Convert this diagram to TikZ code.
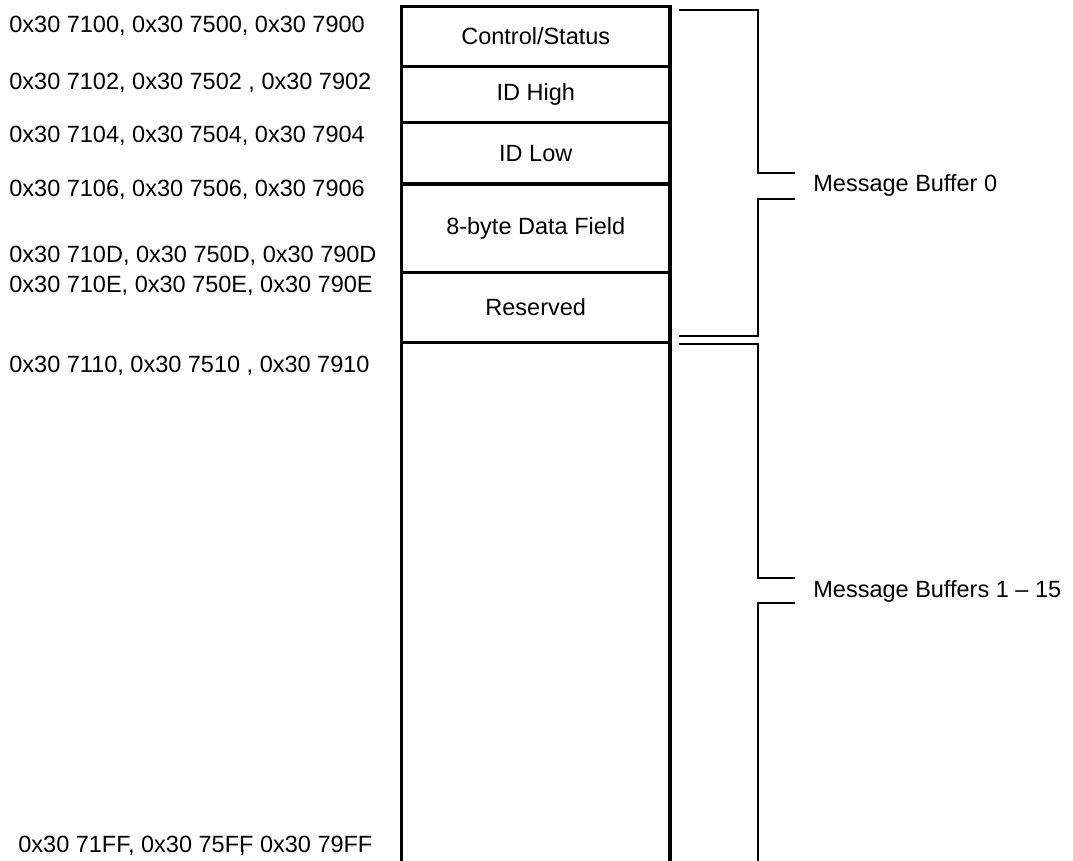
\documentclass[tikz,border=0pt]{standalone}
\usepackage{fontspec}
\setmainfont{Liberation Sans}
\newcommand{\addrfont}{\fontsize{11.75}{14}\selectfont}

\begin{document}
\begin{tikzpicture}[x=0.5pt,y=-0.5pt,
  every node/.style={font=\addrfont},
  cell/.style={draw,rectangle,line width=1.75pt,minimum width=134.25pt,inner sep=0pt,outer sep=0pt},
  addr/.style={anchor=base west,inner sep=0pt},
  brace/.style={line width=1pt}]
\useasboundingbox (0,0) rectangle (1073,861);
\clip (0,0) rectangle (1073,861);

% memory map
\node[cell,minimum height=30pt] (cs) at (535.75,36.5) {Control/Status};
\node[cell,minimum height=27.9pt] (idh) at (535.75,94.4) {ID High};
\node[cell,minimum height=30.85pt] (idl) at (535.75,153.15) {ID Low};
\node[cell,minimum height=44.35pt] (data) at (535.75,228.35) {8-byte Data Field};
\node[cell,minimum height=34.8pt] (res) at (535.75,307.5) {Reserved};
\node[cell,minimum height=278.85pt] (rest) at (535.75,621.15) {};

% addresses
\node[addr] (a0) at (9,33) {0x30 7100, 0x30 7500, 0x30 7900};
\node[addr] (a1) at (9,90) {0x30 7102, 0x30 7502 , 0x30 7902};
\node[addr] (a2) at (9,143) {0x30 7104, 0x30 7504, 0x30 7904};
\node[addr] (a3) at (9,197) {0x30 7106, 0x30 7506, 0x30 7906};
\node[addr] (a4) at (9,263) {0x30 710D, 0x30 750D, 0x30 790D};
\node[addr] (a5) at (9,293) {0x30 710E, 0x30 750E, 0x30 790E};
\node[addr] (a6) at (9,373) {0x30 7110, 0x30 7510 , 0x30 7910};
\node[addr] (a7) at (18,852) {0x30 71FF, 0x30 75F\rlap{,}F 0x30 79FF};

% brackets
\node[addr] (mb0) at (813,192) {Message Buffer 0};
\node[addr] (mb1) at (813,598) {Message Buffers 1 \textendash\ 15};
\draw[brace] (679,10) -| (758,173) -- (795,173);
\draw[brace] (795,199) -- (758,199) |- (679,336);
\draw[brace] (679,344) -| (758,578) -- (795,578);
\draw[brace] (795,603) -- (758,603) -- (758,900);
\end{tikzpicture}
\end{document}
